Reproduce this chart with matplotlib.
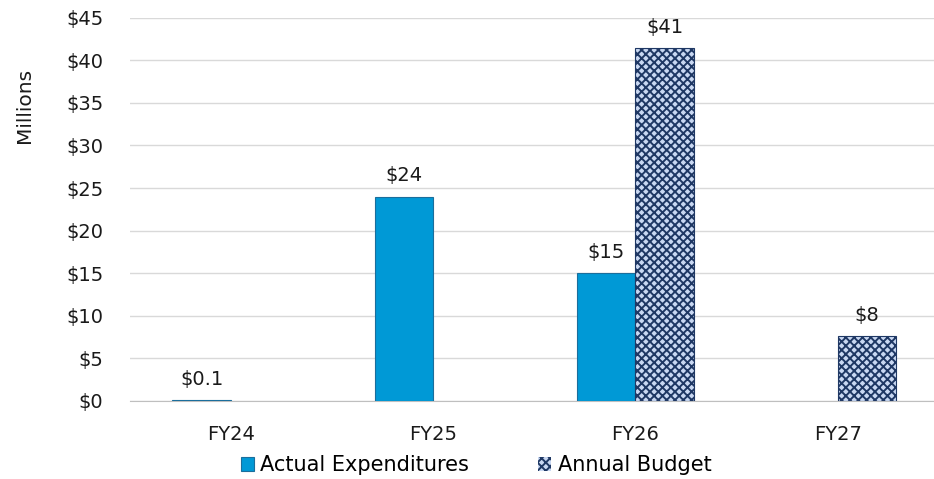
import numpy as np
import matplotlib.pyplot as plt

plt.rcParams['font.family'] = ['DejaVu Sans']

years = ['FY24', 'FY25', 'FY26', 'FY27']
actual = [0.1, 24, 15, 0]      # $ millions
budget = [0, 0, 41.4, 7.6]     # $ millions


def money(v):
    return '$%.1f' % v if v < 1 else '$%.0f' % v


fig = plt.figure(figsize=(9.34, 4.79), dpi=100)
ax = fig.add_axes([0.139, 0.163, 0.866, 0.8])

x = np.arange(len(years))
w = 0.29

plt.rcParams['hatch.color'] = '#1F3864'
plt.rcParams['hatch.linewidth'] = 1.4
b1 = ax.bar(x - w / 2, actual, w, color='#0099D6', edgecolor='#1B6E9C',
            linewidth=0.8, label='Actual Expenditures', zorder=3)
b2 = ax.bar(x + w / 2, budget, w, color='#C9D8F2', edgecolor='#1F3864',
            hatch='xxxx', linewidth=0.8, label='Annual Budget', zorder=3)

for bars, vals in [(b1, actual), (b2, budget)]:
    for r, v in zip(bars, vals):
        if v > 0:
            ax.text(r.get_x() + r.get_width() / 2, v + 1.3, money(v),
                    ha='center', va='bottom', fontsize=14, color='#1A1A1A')
        else:
            r.set_linewidth(0)

ax.set_xlim(-0.5, 3.5)
ax.set_ylim(0, 45)
ax.set_yticks(range(0, 50, 5))
ax.set_yticklabels(['$%d' % t for t in range(0, 50, 5)])
ax.set_xticks(x)
ax.set_xticklabels(years)
ax.tick_params(length=0, labelsize=14, labelcolor='#1A1A1A')
ax.tick_params(axis='y', pad=19)
ax.tick_params(axis='x', pad=17)
ax.grid(axis='y', color='#D9D9D9', linewidth=1, zorder=0)
for s in ['top', 'right', 'left']:
    ax.spines[s].set_visible(False)
ax.spines['bottom'].set_color('#BFBFBF')
ax.set_ylabel('Millions', fontsize=14.5, color='#1A1A1A')
ax.yaxis.set_label_coords(-0.118, 0.77)

ax.legend(loc='center', bbox_to_anchor=(0.428, -0.168), ncol=2,
          frameon=False, fontsize=15, handlelength=0.65, handleheight=0.65,
          columnspacing=3.3, handletextpad=0.3)

fig.savefig('out.png', dpi=100)
